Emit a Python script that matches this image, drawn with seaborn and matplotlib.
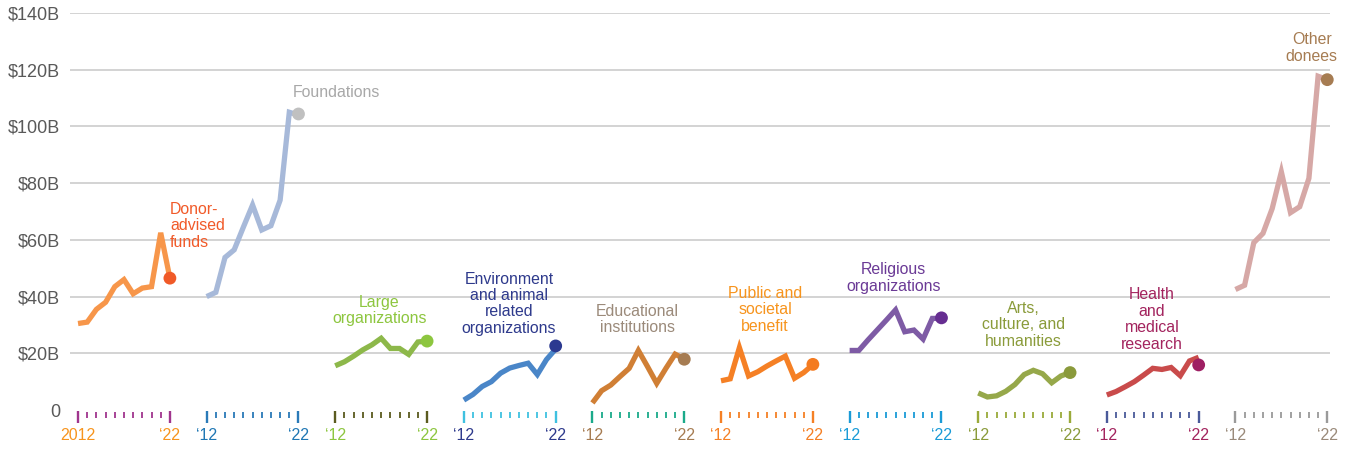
import numpy as np
import pandas as pd
import matplotlib
matplotlib.use("Agg")
import matplotlib.pyplot as plt
import seaborn as sns

years = list(range(2012, 2023))

categories = [
    "Donor-advised funds", "Foundations", "Large organizations",
    "Environment and animal related organizations", "Educational institutions",
    "Public and societal benefit", "Religious organizations",
    "Arts, culture, and humanities", "Health and medical research", "Other donees",
]

# giving, $ billions, 2012-2022
donor_advised = [30.5, 31, 35.5, 38, 43.5, 46, 41, 43, 43.5, 62.5, 46.5]
foundations = [40, 41.5, 53.8, 56.5, 64.5, 72.3, 63.5, 65, 74, 105, 104]
large_orgs = [15.6, 17, 19, 21.2, 23, 25.3, 21.7, 21.7, 19.6, 24, 24.3]
environment = [3.5, 5.5, 8.3, 10, 13, 14.8, 15.7, 16.5, 12.5, 17.8, 21.5]
educational = [2.5, 6.8, 8.8, 11.8, 14.7, 21, 15.3, 9.4, 14.7, 19.7, 18]
public_benefit = [10.3, 11, 22, 12, 13.5, 15.5, 17.3, 19, 11.2, 13.2, 16]
religious = [21, 21, 24.7, 28.2, 31.7, 35.3, 27.6, 28.2, 25, 32.3, 32.3]
arts = [6, 4.6, 5, 6.6, 9, 12.5, 14, 12.8, 9.6, 12, 13.2]
health = [5.3, 6.5, 8.2, 10, 12.3, 14.7, 14.3, 15, 12.1, 17.3, 18.6]
other = [42.5, 44, 59, 62.3, 71, 84, 69.6, 71.7, 81.7, 117.7, 116.5]

series = [donor_advised, foundations, large_orgs, environment, educational,
          public_benefit, religious, arts, health, other]

# 2022 end-point markers
dot_values = [46.5, 104.4, 24.3, 22.6, 17.9, 16.1, 32.5, 13.2, 15.9, 116.5]

first_labels = ["2012"] + ["\u201812"] * 9
last_labels = ["\u201822"] * 10

label_texts = [
    "Donor-\nadvised\nfunds", "Foundations", "Large\norganizations",
    "Environment\nand animal\nrelated\norganizations", "Educational\ninstitutions",
    "Public and\nsocietal\nbenefit", "Religious\norganizations",
    "Arts,\nculture, and\nhumanities", "Health\nand\nmedical\nresearch", "Other\ndonees",
]

line_colors = ["#F7964A", "#A7B9D9", "#8DB84A", "#4A86C8", "#D07F35",
               "#F58025", "#7E5BA5", "#96A84A", "#C94B4B", "#D6A8A6"]
dot_colors = ["#F05A28", "#C0C0C0", "#8DC63F", "#2B3990", "#A67C52",
              "#F47B20", "#662D91", "#8A9A3B", "#9E1F63", "#A67C52"]
label_colors = ["#F15A29", "#A8A8A8", "#8DC63F", "#2E3A8C", "#9B8A7A",
                "#F7941D", "#6B3A96", "#8A9B3A", "#A3245E", "#A67C52"]
tick_colors = ["#A0358D", "#2A7AB8", "#5B5B1F", "#3FC1E0", "#1AAA8A",
               "#F58025", "#1A9BD7", "#9AAA3A", "#4A5A9A", "#9A9A9A"]
ticklabel_colors = ["#F7941D", "#1F77B4", "#8DC63F", "#2E3A8C", "#A67C52",
                    "#F58025", "#1A9BD7", "#8A9B3A", "#A3245E", "#9A8A7A"]

# label placement: (x within panel in years from 2012, y value, alignment)
label_pos = [(10.0, 65, "left"), (9.4, 111.8, "left"), (4.8, 35, "center"),
             (4.9, 37.5, "center"), (4.9, 32, "center"), (4.8, 35.3, "center"),
             (4.8, 46.5, "center"), (4.9, 30, "center"), (4.9, 31.9, "center"),
             (8.3, 127.6, "center")]

GAP = 14  # panel spacing in year units

rows = []
for i, (cat, vals) in enumerate(zip(categories, series)):
    for yr, v in zip(years, vals):
        rows.append({"category": cat, "pos": i * GAP + (yr - 2012), "value": v})
df = pd.DataFrame(rows)

dots = pd.DataFrame({"category": categories,
                     "pos": [i * GAP + 10 for i in range(len(categories))],
                     "value": dot_values})

sns.set_style("white")
plt.rcParams["font.family"] = ["Liberation Sans", "DejaVu Sans"]

fig = plt.figure(figsize=(13.47, 4.49), dpi=100)
ax = fig.add_axes([0.052, 0.0, 0.9354, 0.971])

sns.lineplot(data=df, x="pos", y="value", hue="category", palette=line_colors,
             hue_order=categories, linewidth=3.8, legend=False, ax=ax,
             solid_joinstyle="miter", solid_capstyle="butt")
sns.scatterplot(data=dots, x="pos", y="value", hue="category", palette=dot_colors,
                hue_order=categories, s=85, linewidth=0, legend=False, ax=ax,
                zorder=5, clip_on=False)

ax.set_xlim(-0.87, 136.3)
ax.set_ylim(-13.75, 140)
ax.set_yticks(range(0, 141, 20))
ax.set_yticklabels(["0"] + [f"\\${v}B" for v in range(20, 141, 20)])
ax.tick_params(axis="y", length=0, pad=7, labelsize=13, labelcolor="#595959")
ax.set_xticks([])
ax.set_xlabel("")
ax.set_ylabel("")
ax.grid(axis="y", color="#C8C8C8", linewidth=1.1)
ax.get_ygridlines()[0].set_visible(False)
ax.set_axisbelow(True)
for s in ax.spines.values():
    s.set_visible(False)

# per-panel year ticks and labels
for i in range(len(categories)):
    base = i * GAP
    xs = [base + (yr - 2012) for yr in years]
    ax.vlines(xs[1:-1], -2.8, -0.7, color=tick_colors[i], linewidth=1.3)
    ax.vlines([xs[0], xs[-1]], -4.6, -0.4, color=tick_colors[i], linewidth=1.7)
    ax.text(xs[0], -8.9, first_labels[i], ha="center", va="center",
            fontsize=11.5, color=ticklabel_colors[i])
    ax.text(xs[-1], -8.9, last_labels[i], ha="center", va="center",
            fontsize=11.5, color=ticklabel_colors[i])
    lx, ly, ha = label_pos[i]
    ax.text(base + lx, ly, label_texts[i], ha=ha, va="center", multialignment=ha,
            fontsize=11.4, color=label_colors[i], linespacing=1.12)

fig.savefig("out.png", dpi=100)
